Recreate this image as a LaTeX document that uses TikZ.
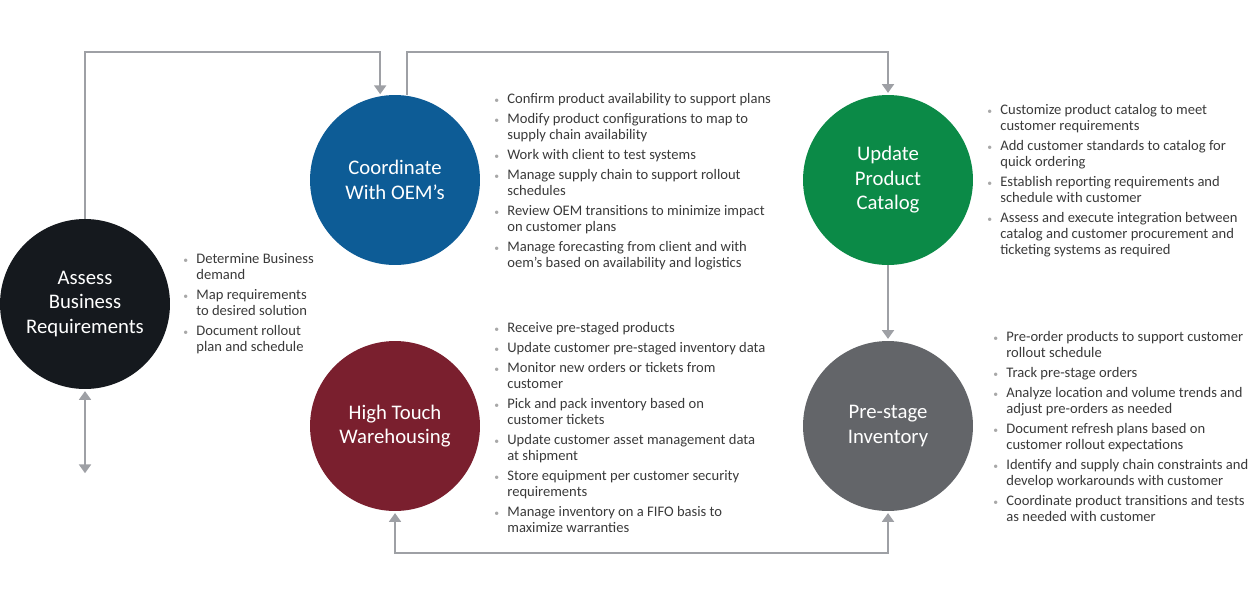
\documentclass[tikz,border=0pt]{standalone}
\usepackage{fontspec}
\setmainfont{Carlito}
\usepackage{xcolor}
\usetikzlibrary{arrows.meta, positioning}

\definecolor{assesscol}{HTML}{15191E}
\definecolor{oemcol}{HTML}{0D5C96}
\definecolor{catcol}{HTML}{0B8A47}
\definecolor{whcol}{HTML}{7A1F2E}
\definecolor{prestcol}{HTML}{636569}
\definecolor{linecol}{HTML}{9EA0A5}
\definecolor{txtcol}{HTML}{3A3A3A}
\definecolor{bulcol}{HTML}{A8A8A8}

\newcommand{\bul}{\llap{\textcolor{bulcol}{\fontsize{5.5}{5.5}\selectfont\textbullet}\hspace{4.6pt}}}
\newcommand{\igap}{2.3pt}

\begin{document}
\begin{tikzpicture}[
    x=0.02cm, y=-0.02cm,
    stage/.style={circle, minimum size=3.4cm, inner sep=0pt, align=center, text=white,
        font=\fontsize{11.8}{13.9}\selectfont},
    blist/.style={anchor=north west, inner sep=0pt, align=left, text=txtcol,
        font=\fontsize{8.3}{9.1}\selectfont},
    flow/.style={draw=linecol, line width=1.1pt, -{Triangle[width=6.8pt,length=5pt]}, shorten >=1pt},
    flowboth/.style={draw=linecol, line width=1.1pt, {Triangle[width=6.8pt,length=5pt]}-{Triangle[width=6.8pt,length=5pt]}, shorten >=1pt, shorten <=1pt},
]
\useasboundingbox (0,0) rectangle (1250,605);

% Stages
\node[stage, fill=assesscol] (assess) at (85,304) {Assess\\Business\\Requirements};
\node[stage, fill=oemcol] (oem) at (395,180) {Coordinate\\With OEM’s};
\node[stage, fill=catcol] (catalog) at (888,180) {Update\\Product\\Catalog};
\node[stage, fill=whcol] (whouse) at (395,426) {High Touch\\Warehousing};
\node[stage, fill=prestcol] (prestage) at (888,426) {Pre-stage\\Inventory};

% Helper coordinates for the connector runs
\coordinate (topline) at (0,52);
\coordinate (botline) at (0,553);
\coordinate (assessend) at (85,475);

% Connectors
\draw[flow] (assess.north) -- (assess.north |- topline) -| (oem.100);
\draw[flow] (oem.82) -- (oem.82 |- topline) -| (catalog.north);
\draw[flow] (catalog.south) -- (prestage.north);
\draw[flowboth] (whouse.south) -- (whouse.south |- botline) -- (prestage.south |- botline) -- (prestage.south);
\draw[flowboth] (assess.south) -- (assessend);

% Task lists
\node[blist] (assesslist) at (196,253) {%
\bul Determine Business\\ demand\\[\igap]
\bul Map requirements\\ to desired solution\\[\igap]
\bul Document rollout\\ plan and schedule};

\node[blist] (oemlist) at (507,93) {%
\bul Confirm product availability to support plans\\[\igap]
\bul Modify product configurations to map to\\ supply chain availability\\[\igap]
\bul Work with client to test systems\\[\igap]
\bul Manage supply chain to support rollout\\ schedules\\[\igap]
\bul Review OEM transitions to minimize impact\\ on customer plans\\[\igap]
\bul Manage forecasting from client and with\\ oem’s based on availability and logistics};

\node[blist] (cataloglist) at (1000,104) {%
\bul Customize product catalog to meet\\ customer requirements\\[\igap]
\bul Add customer standards to catalog for\\ quick ordering\\[\igap]
\bul Establish reporting requirements and\\ schedule with customer\\[\igap]
\bul Assess and execute integration between\\ catalog and customer procurement and\\ ticketing systems as required};

\node[blist] (whouselist) at (507,322) {%
\bul Receive pre-staged products\\[\igap]
\bul Update customer pre-staged inventory data\\[\igap]
\bul Monitor new orders or tickets from\\ customer\\[\igap]
\bul Pick and pack inventory based on\\ customer tickets\\[\igap]
\bul Update customer asset management data\\ at shipment\\[\igap]
\bul Store equipment per customer security\\ requirements\\[\igap]
\bul Manage inventory on a FIFO basis to\\ maximize warranties};

\node[blist] (prestagelist) at (1006,331) {%
\bul Pre-order products to support customer\\ rollout schedule\\[\igap]
\bul Track pre-stage orders\\[\igap]
\bul Analyze location and volume trends and\\ adjust pre-orders as needed\\[\igap]
\bul Document refresh plans based on\\ customer rollout expectations\\[\igap]
\bul Identify and supply chain constraints and\\ develop workarounds with customer\\[\igap]
\bul Coordinate product transitions and tests\\ as needed with customer};

\end{tikzpicture}
\end{document}
